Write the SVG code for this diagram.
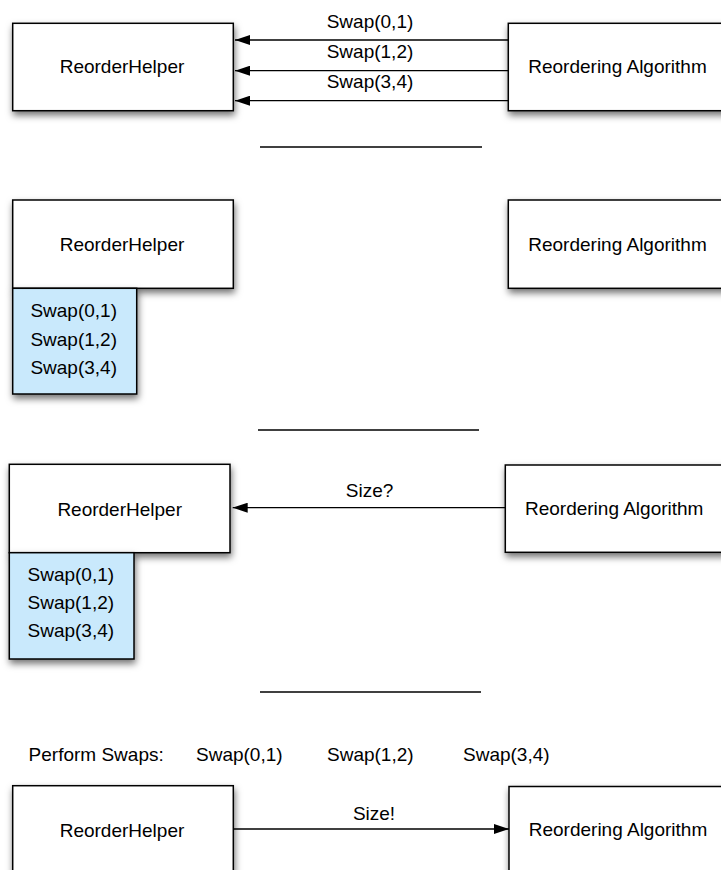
<svg xmlns="http://www.w3.org/2000/svg" width="721" height="870" viewBox="0 0 721 870">
<style>
.box{fill:#fff;stroke:#000;stroke-width:1.5;filter:url(#sh)}
.list{fill:#C9E9FC;stroke:#000;stroke-width:1.5;filter:url(#sh)}
.t{font-family:"Liberation Sans",Arial,sans-serif;font-size:19px;fill:#000}
.c{text-anchor:middle}
.ln{stroke:#000;stroke-width:1.3;fill:none}
.sep{stroke:#000;stroke-width:1.5}
</style>
<defs>
<filter id="sh" x="-10%" y="-15%" width="125%" height="140%">
<feDropShadow dx="1" dy="4" stdDeviation="3.5" flood-color="#000" flood-opacity="0.55"/>
</filter>
<marker id="ah" markerUnits="userSpaceOnUse" markerWidth="15" markerHeight="10" refX="15" refY="5" orient="auto">
<path d="M0,0 L15,5 L0,10 z" fill="#000"/>
</marker>
</defs>
<rect width="721" height="870" fill="#fff"/>

<!-- Panel 1 -->
<g id="p1-helper">
<rect class="box" x="12.7" y="23.3" width="220.6" height="87.4"/>
<text class="t c" x="122" y="73.3">ReorderHelper</text>
</g>
<g id="p1-algo">
<rect class="box" x="508.3" y="23.3" width="220.6" height="87.4"/>
<text class="t c" x="617.5" y="72.7">Reordering Algorithm</text>
</g>

<!-- Panel 2 -->
<g id="p2-helper">
<rect class="box" x="12.7" y="200" width="220.6" height="88.3"/>
<text class="t c" x="122" y="251">ReorderHelper</text>
<rect class="list" x="12.7" y="288.3" width="124" height="105.7"/>
<text class="t c" x="73.7" y="317.3">Swap(0,1)</text>
<text class="t c" x="73.7" y="345.7">Swap(1,2)</text>
<text class="t c" x="73.7" y="374">Swap(3,4)</text>
</g>
<g id="p2-algo">
<rect class="box" x="508.3" y="200" width="220.6" height="88.3"/>
<text class="t c" x="617.5" y="251">Reordering Algorithm</text>
</g>

<!-- Panel 3 -->
<g id="p3-helper">
<rect class="box" x="9.3" y="464.3" width="220.7" height="88.4"/>
<text class="t c" x="119.7" y="515.7">ReorderHelper</text>
<rect class="list" x="9.3" y="552.7" width="124.7" height="106.3"/>
<text class="t c" x="70.8" y="580.7">Swap(0,1)</text>
<text class="t c" x="70.8" y="609">Swap(1,2)</text>
<text class="t c" x="70.8" y="637.3">Swap(3,4)</text>
</g>
<g id="p3-algo">
<rect class="box" x="505.3" y="465" width="220.7" height="87.3"/>
<text class="t c" x="614.2" y="515">Reordering Algorithm</text>
</g>

<!-- Panel 4 -->
<g id="p4-label">
<text class="t" x="28.6" y="760.5">Perform Swaps:</text>
<text class="t" x="196" y="760.5">Swap(0,1)</text>
<text class="t" x="327" y="760.5">Swap(1,2)</text>
<text class="t" x="463" y="760.5">Swap(3,4)</text>
</g>
<g id="p4-helper">
<rect class="box" x="12.7" y="785.7" width="220.6" height="100"/>
<text class="t c" x="122" y="836.7">ReorderHelper</text>
</g>
<g id="p4-algo">
<rect class="box" x="509" y="786.5" width="220.6" height="100"/>
<text class="t c" x="618" y="836">Reordering Algorithm</text>
</g>

<!-- Separators -->
<g id="separators">
<line class="sep" x1="260" y1="147" x2="482" y2="147"/>
<line class="sep" x1="258" y1="430" x2="479" y2="430"/>
<line class="sep" x1="260" y1="692" x2="481" y2="692"/>
</g>

<!-- Connectors -->
<g id="connectors">
<line class="ln" x1="508.3" y1="40" x2="235" y2="40" marker-end="url(#ah)"/>
<text class="t c" x="370" y="28.3">Swap(0,1)</text>
<line class="ln" x1="508.3" y1="70.7" x2="235" y2="70.7" marker-end="url(#ah)"/>
<text class="t c" x="370" y="58.3">Swap(1,2)</text>
<line class="ln" x1="508.3" y1="100.7" x2="235" y2="100.7" marker-end="url(#ah)"/>
<text class="t c" x="370" y="87.7">Swap(3,4)</text>

<line class="ln" x1="505.3" y1="507.7" x2="232.7" y2="507.7" marker-end="url(#ah)"/>
<text class="t c" x="369.5" y="497.3">Size?</text>

<line class="ln" x1="233.3" y1="829" x2="509" y2="829" marker-end="url(#ah)"/>
<text class="t c" x="374" y="820">Size!</text>
</g>
</svg>
